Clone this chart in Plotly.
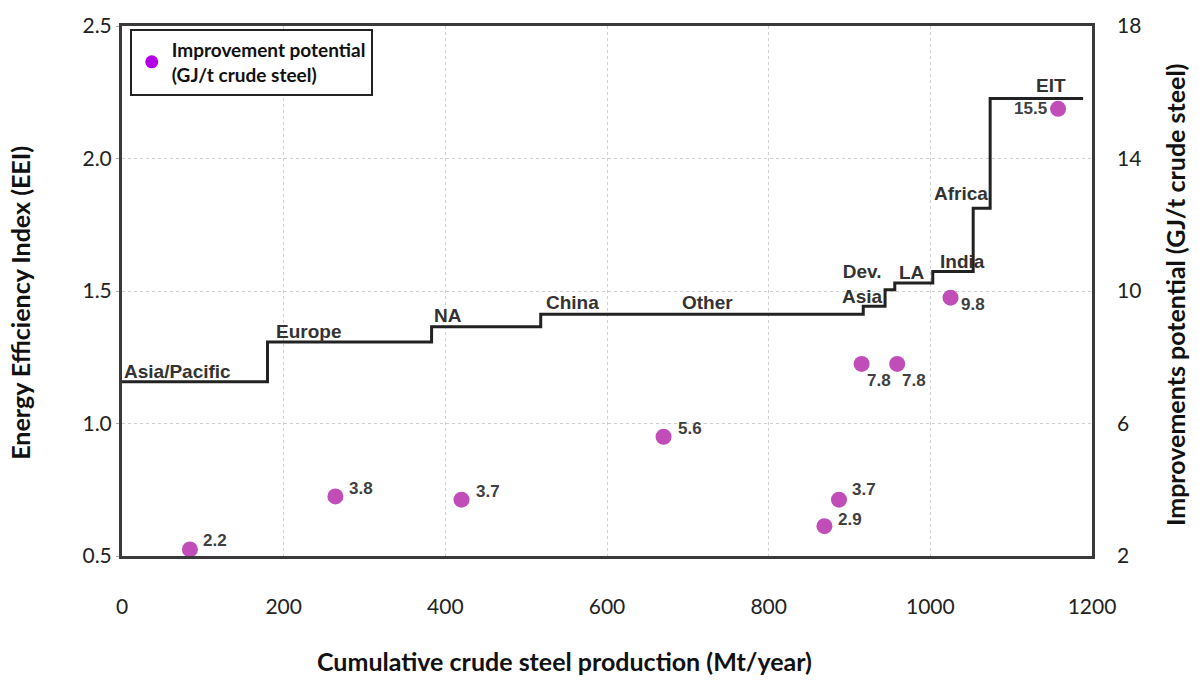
import plotly.graph_objects as go

# Energy efficiency index step curve: cumulative production edges (Mt/year) and EEI level per block
step_edges = [0, 180, 383, 518, 917, 944, 956, 1003, 1053, 1074, 1189]
step_levels = [1.158, 1.308, 1.365, 1.412, 1.442, 1.505, 1.530, 1.574, 1.812, 2.226]

# Region labels and where they sit (x in Mt/year, y in EEI)
region_names = ["Asia/Pacific", "Europe", "NA", "China", "Other", "Dev.<br>Asia", "LA", "India", "Africa", "EIT"]
region_x = [69, 231, 403, 557, 724, 916, 977, 1040, 1038, 1149]
region_y = [1.196, 1.346, 1.406, 1.455, 1.455, 1.526, 1.568, 1.613, 1.868, 2.274]

# Improvement potential points (GJ/t crude steel, right axis)
potential_x = [84, 264, 420, 670, 869, 887, 915, 959, 1025, 1158]
potential_val = [2.2, 3.8, 3.7, 5.6, 2.9, 3.7, 7.8, 7.8, 9.8, 15.5]

# Value label placement relative to each point (pixels)
label_anchor = ["left", "left", "left", "left", "left", "left", "left", "left", "left", "right"]
label_dx = [11, 12, 12, 12, 12, 11, 3, 3, 8, -9]
label_dy = [9, 8, 8, 8, 7, 10, -17, -17, -7, 0]

x_ticks = [0, 200, 400, 600, 800, 1000, 1200]
left_ticks = [0.5, 1.0, 1.5, 2.0, 2.5]
right_ticks = [2, 6, 10, 14, 18]

BODY = "Lato, 'Open Sans', sans-serif"
MARK = "'Liberation Sans', Arial, sans-serif"
GRID = dict(showgrid=True, gridcolor="#cfcfcf", griddash="dot", gridwidth=1)

fig = go.Figure()

fig.add_trace(go.Scatter(
    x=step_edges,
    y=step_levels + [step_levels[-1]],
    mode="lines",
    line=dict(shape="hv", color="#222222", width=3),
    showlegend=False,
    hoverinfo="skip",
))

fig.add_trace(go.Scatter(
    x=potential_x,
    y=potential_val,
    yaxis="y2",
    mode="markers",
    marker=dict(size=16, color="#c04db8"),
    showlegend=False,
))

# Legend entry
fig.add_trace(go.Scatter(
    x=[None], y=[None],
    mode="markers",
    marker=dict(size=13, color="#b300e6"),
    name="<b>Improvement potential<br>(GJ/t crude steel)</b>",
    showlegend=True,
))

for xv, v, anc, dx, dy in zip(potential_x, potential_val, label_anchor, label_dx, label_dy):
    fig.add_annotation(
        x=xv, y=v, xref="x", yref="y2", text=f"<b>{v:.1f}</b>",
        showarrow=False, xanchor=anc, yanchor="middle", xshift=dx, yshift=dy,
        font=dict(family=MARK, size=17, color="#404040"),
    )

for name, xv, yv in zip(region_names, region_x, region_y):
    fig.add_annotation(
        x=xv, y=yv, xref="x", yref="y", text=f"<b>{name}</b>",
        showarrow=False, xanchor="center", yanchor="middle",
        font=dict(family=MARK, size=19, color="#333333"),
    )

# Axis titles
fig.add_annotation(
    x=0.4557, y=-0.198, xref="paper", yref="paper",
    text="<b>Cumulative crude steel production (Mt/year)</b>",
    showarrow=False, xanchor="center", yanchor="middle",
    font=dict(family=BODY, size=25, color="#111111"),
)
fig.add_annotation(
    x=-0.105, y=0.478, xref="paper", yref="paper", textangle=-90,
    text="<b>Energy Efficiency Index (EEI)</b>",
    showarrow=False, xanchor="center", yanchor="middle",
    font=dict(family=BODY, size=25, color="#111111"),
)
fig.add_annotation(
    x=1.0856, y=0.4925, xref="paper", yref="paper", textangle=-90,
    text="<b>Improvements potential (GJ/t crude steel)</b>",
    showarrow=False, xanchor="center", yanchor="middle",
    font=dict(family=BODY, size=25, color="#111111"),
)

fig.update_layout(
    width=1199, height=682,
    margin=dict(l=122, r=107, t=20, b=126),
    paper_bgcolor="white",
    plot_bgcolor="white",
    font=dict(family=BODY, size=21, color="#222222"),
    xaxis=dict(
        range=[0, 1200], tickvals=x_ticks, **GRID,
        showline=True, linecolor="#3a3a3a", linewidth=3, mirror=True,
        ticks="", ticklabelstandoff=30, zeroline=False,
    ),
    yaxis=dict(
        range=[0.5, 2.5], tickvals=left_ticks, tickformat=".1f", **GRID,
        showline=True, linecolor="#3a3a3a", linewidth=3, mirror=True,
        ticks="outside", ticklen=3, tickcolor="#aaaaaa", ticklabelstandoff=0, zeroline=False,
    ),
    yaxis2=dict(
        range=[2, 18], tickvals=right_ticks, overlaying="y", side="right",
        showgrid=False, showline=False, zeroline=False, ticks="", ticklabelstandoff=24,
    ),
    legend=dict(
        x=0.008, y=0.995, xanchor="left", yanchor="top",
        bgcolor="white", bordercolor="#222222", borderwidth=2,
        font=dict(family=BODY, size=19, color="#111111"),
        itemwidth=30, tracegroupgap=0,
    ),
)

fig.write_html("out.html")
